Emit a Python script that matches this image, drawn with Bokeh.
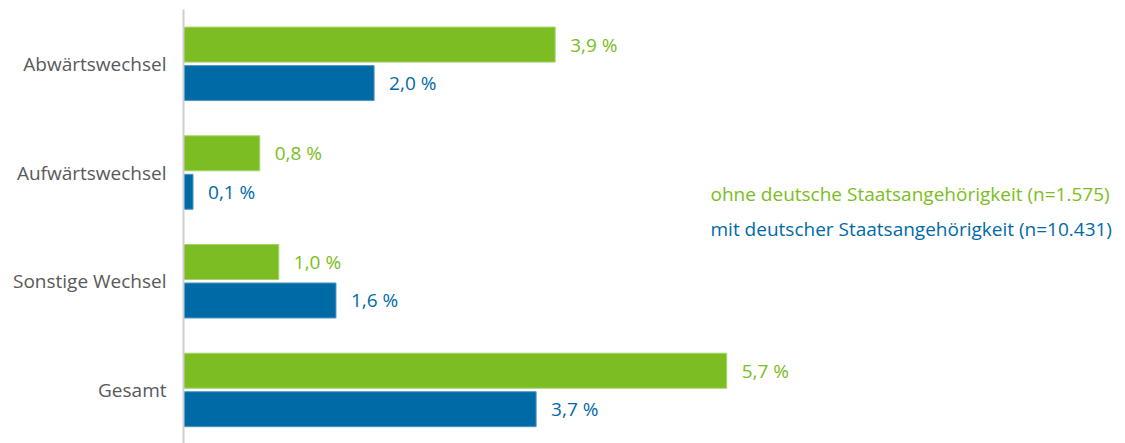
from bokeh.plotting import figure
from bokeh.models import ColumnDataSource, Range1d, FixedTicker, Label
from bokeh.core.properties import value
from bokeh.embed import file_html
from bokeh.resources import INLINE

categories = ["Abwärtswechsel", "Aufwärtswechsel", "Sonstige Wechsel", "Gesamt"]
ohne_deutsche = [3.9, 0.8, 1.0, 5.7]
mit_deutscher = [2.0, 0.1, 1.6, 3.7]
series_names = ["ohne deutsche Staatsangehörigkeit (n=1.575)",
                "mit deutscher Staatsangehörigkeit (n=10.431)"]

GREEN = "#7BBD22"
BLUE = "#006AA7"
FONT = "Open Sans"
FS = "19px"

n = len(categories)
centers = [n - i - 0.5 for i in range(n)]
off = 0.177
bh = 0.322

def fmt(v):
    return f"{v:.1f}".replace(".", ",") + " %"

src_g = ColumnDataSource(dict(y=[c + off for c in centers], v=ohne_deutsche,
                              lab=[fmt(v) for v in ohne_deutsche]))
src_b = ColumnDataSource(dict(y=[c - off for c in centers], v=mit_deutscher,
                              lab=[fmt(v) for v in mit_deutscher]))

p = figure(width=1125, height=443, output_backend="svg", toolbar_location=None,
           x_range=Range1d(0, 942 / 95.3), y_range=Range1d(4 - 434 / 108.7, 4),
           min_border_left=183, min_border_right=0, min_border_top=9, min_border_bottom=0)

p.hbar(y="y", left=0, right="v", height=bh, source=src_g, fill_color=GREEN,
       line_color="#a6d46a", line_width=1)
p.hbar(y="y", left=0, right="v", height=bh, source=src_b, fill_color=BLUE,
       line_color="#4d97c4", line_width=1)

p.text(x="v", y="y", text="lab", source=src_g, x_offset=15, text_baseline="middle",
       text_color=GREEN, text_font=value(FONT), text_font_size=FS)
p.text(x="v", y="y", text="lab", source=src_b, x_offset=15, text_baseline="middle",
       text_color=BLUE, text_font=value(FONT), text_font_size=FS)

p.add_layout(Label(x=5.53, y=2.307, text=series_names[0], text_color=GREEN,
                   text_font=FONT, text_font_size=FS, text_baseline="middle"))
p.add_layout(Label(x=5.53, y=1.985, text=series_names[1], text_color=BLUE,
                   text_font=FONT, text_font_size=FS, text_baseline="middle"))

p.xaxis.visible = False
p.xgrid.visible = False
p.ygrid.visible = False
p.outline_line_color = None

yax = p.yaxis[0]
yax.ticker = FixedTicker(ticks=centers)
yax.major_label_overrides = {c: cat for c, cat in zip(centers, categories)}
yax.axis_line_color = "#d0d0d0"
yax.axis_line_width = 2
yax.major_tick_line_color = None
yax.minor_tick_line_color = None
yax.major_label_standoff = 11
yax.major_label_text_font = FONT
yax.major_label_text_font_size = FS
yax.major_label_text_color = "#595959"

open("out.html", "w").write(file_html(p, INLINE))
